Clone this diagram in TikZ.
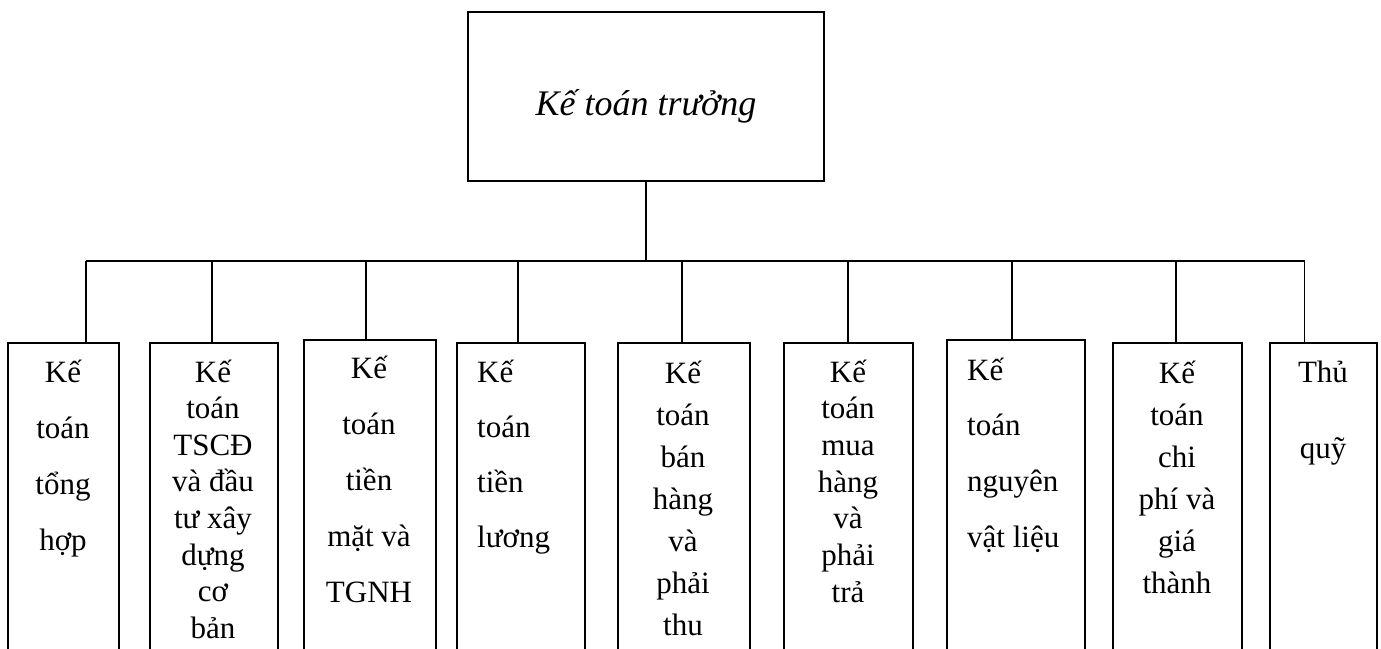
\documentclass[tikz,border=0pt]{standalone}
\usepackage{fontspec}
\setmainfont{Liberation Serif}
\newcommand\ctext[2]{\parbox[t]{150pt}{\centering\baselineskip=#1pt #2}}
\newcommand\ltext[2]{\parbox[t]{120pt}{\raggedright\baselineskip=#1pt #2}}
\begin{document}
\begin{tikzpicture}[x=1pt,y=-1pt,
  box/.style={draw, line width=1.5pt, anchor=north west, inner sep=0pt, minimum height=330pt},
  lbl/.style={inner sep=0pt, font=\fontsize{31}{37}\selectfont},
  conn/.style={line width=1.5pt}]
\useasboundingbox (0,0) rectangle (1381,648);
\clip (0,0) rectangle (1381,648);
% head box
\node[draw, line width=1.7pt, minimum width=356pt, minimum height=169pt, inner sep=0pt] (top) at (646,96.5) {};
\node[inner sep=0pt, anchor=base, font=\fontsize{36}{40}\selectfont\itshape] (toptext) at (646,115) {Kế toán trưởng};
% bottom boxes
\node[box, minimum width=111pt] (b1) at (7,342) {};
\node[box, minimum width=128pt] (b2) at (149,342) {};
\node[box, minimum width=132pt] (b3) at (303,339) {};
\node[box, minimum width=128pt] (b4) at (456,342) {};
\node[box, minimum width=132pt] (b5) at (617,342) {};
\node[box, minimum width=129pt] (b6) at (783,342) {};
\node[box, minimum width=138pt] (b7) at (946,339) {};
\node[box, minimum width=129pt] (b8) at (1112,342) {};
\node[box, minimum width=107pt] (b9) at (1269,342) {};
% texts
\node[lbl, anchor=base] (t1) at (63,382) {\ctext{56}{Kế\\toán\\tổng\\hợp}};
\node[lbl, anchor=base] (t2) at (213,382) {\ctext{36.6}{Kế\\toán\\TSCĐ\\và đầu\\tư xây\\dựng\\cơ\\bản}};
\node[lbl, anchor=base] (t3) at (369,378) {\ctext{56}{Kế\\toán\\tiền\\mặt và\\TGNH}};
\node[lbl, anchor=base west] (t4) at (477,382) {\ltext{55.3}{Kế\\toán\\tiền\\lương}};
\node[lbl, anchor=base] (t5) at (683,383) {\ctext{42}{Kế\\toán\\bán\\hàng\\và\\phải\\thu}};
\node[lbl, anchor=base] (t6) at (848,382) {\ctext{36.7}{Kế\\toán\\mua\\hàng\\và\\phải\\trả}};
\node[lbl, anchor=base west] (t7) at (967,380) {\ltext{55.7}{Kế\\toán\\nguyên\\vật liệu}};
\node[lbl, anchor=base] (t8) at (1177,383) {\ctext{42}{Kế\\toán\\chi\\phí và\\giá\\thành}};
\node[lbl, anchor=base] (t9) at (1323,382) {\ctext{76}{Thủ\\quỹ}};
% bus points
\coordinate (s1) at (86,261);
\coordinate (s2) at (212,261);
\coordinate (s3) at (366,261);
\coordinate (s4) at (518,261);
\coordinate (s5) at (682,261);
\coordinate (s6) at (848,261);
\coordinate (s7) at (1012,261);
\coordinate (s8) at (1176,261);
\coordinate (s9) at (1304.5,261);
% connectors
\draw[conn] (top.south) -- (top.south |- s1);
\draw[conn] (s1) -- (s9);
\draw[conn] (s1) -- (s1 |- b1.north);
\draw[conn] (s2) -- (s2 |- b2.north);
\draw[conn] (s3) -- (s3 |- b3.north);
\draw[conn] (s4) -- (s4 |- b4.north);
\draw[conn] (s5) -- (s5 |- b5.north);
\draw[conn] (s6) -- (s6 |- b6.north);
\draw[conn] (s7) -- (s7 |- b7.north);
\draw[conn] (s8) -- (s8 |- b8.north);
\draw[conn] (s9) -- (s9 |- b9.north);
\end{tikzpicture}
\end{document}
